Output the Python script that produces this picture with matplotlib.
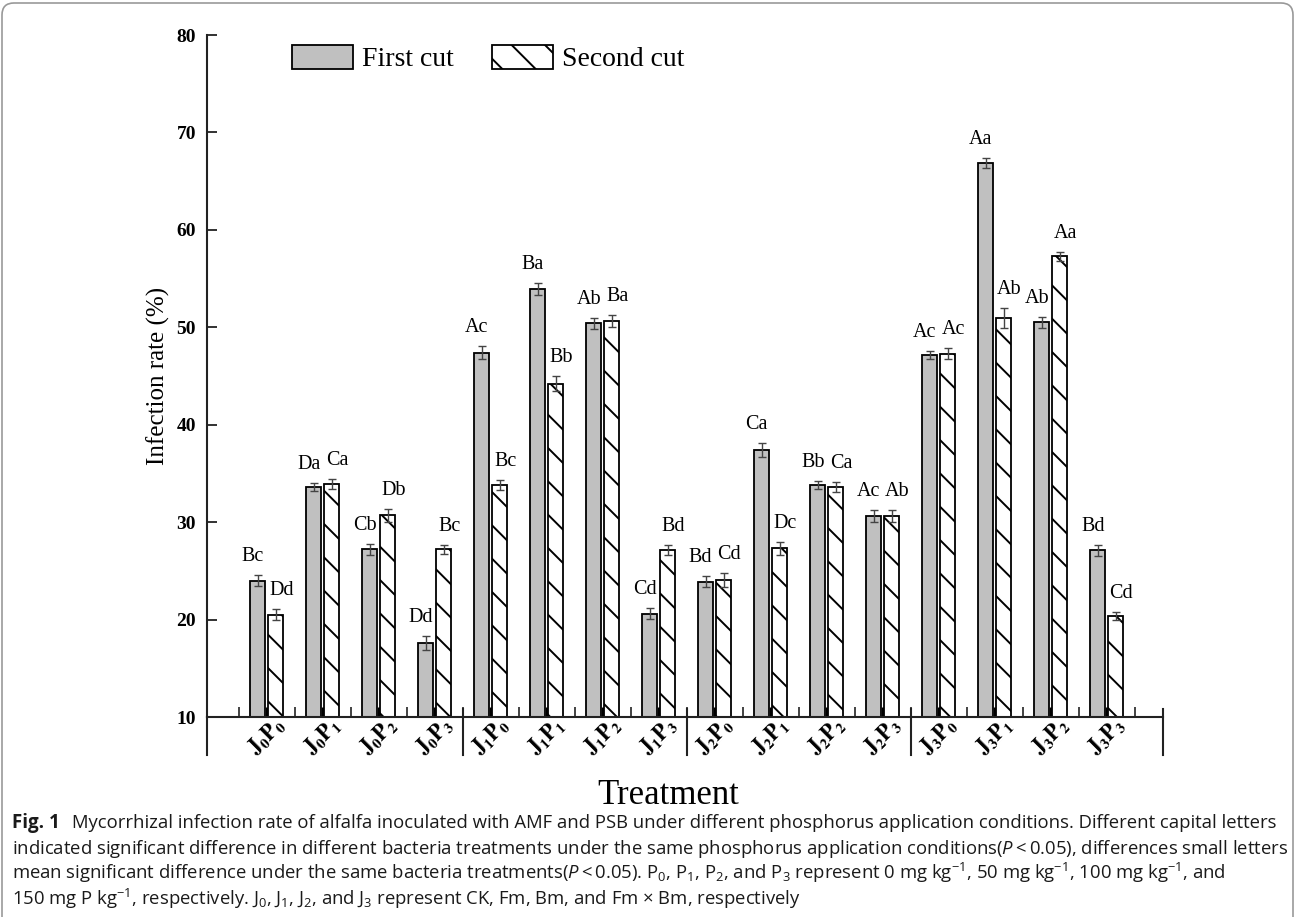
"""
Mycorrhizal infection rate of alfalfa, first and second cut, by treatment.
"""
import numpy as np
import matplotlib.pyplot as plt
import matplotlib.transforms as mtransforms
from matplotlib.patches import Patch, FancyBboxPatch

# treatment codes J(bacteria) x P(phosphorus level)
treatments = ["J0P0", "J0P1", "J0P2", "J0P3",
              "J1P0", "J1P1", "J1P2", "J1P3",
              "J2P0", "J2P1", "J2P2", "J2P3",
              "J3P0", "J3P1", "J3P2", "J3P3"]

first_cut = [24.0, 33.6, 27.2, 17.6, 47.4, 53.9, 50.4, 20.6,
             23.9, 37.4, 33.8, 30.6, 47.15, 66.9, 50.5, 27.1]
first_err = [0.6, 0.45, 0.55, 0.75, 0.65, 0.6, 0.6, 0.55,
             0.55, 0.75, 0.4, 0.6, 0.4, 0.5, 0.6, 0.55]
second_cut = [20.5, 33.9, 30.7, 27.2, 33.8, 44.2, 50.65, 27.15,
              24.05, 27.3, 33.6, 30.6, 47.3, 50.95, 57.3, 20.4]
second_err = [0.55, 0.5, 0.65, 0.45, 0.5, 0.75, 0.6, 0.5,
              0.75, 0.65, 0.5, 0.6, 0.6, 1.0, 0.45, 0.4]

first_sig = ["Bc", "Da", "Cb", "Dd", "Ac", "Ba", "Ab", "Cd",
             "Bd", "Ca", "Bb", "Ac", "Ac", "Aa", "Ab", "Bd"]
second_sig = ["Dd", "Ca", "Db", "Bc", "Bc", "Bb", "Ba", "Bd",
              "Cd", "Dc", "Ca", "Ab", "Ac", "Ab", "Aa", "Cd"]

caption_lines = [
    "Mycorrhizal infection rate of alfalfa inoculated with AMF and PSB under different phosphorus application conditions. Different capital letters",
    "indicated significant difference in different bacteria treatments under the same phosphorus application conditions($P$\u2009<\u20090.05), differences small letters",
    "mean significant difference under the same bacteria treatments($P$\u2009<\u20090.05). P$_0$, P$_1$, P$_2$, and P$_3$ represent 0 mg kg$^{-1}$, 50 mg kg$^{-1}$, 100 mg kg$^{-1}$, and",
    "150 mg P kg$^{-1}$, respectively. J$_0$, J$_1$, J$_2$, and J$_3$ represent CK, Fm, Bm, and Fm \u00d7 Bm, respectively",
]

plt.rcParams["font.family"] = ["Liberation Serif", "DejaVu Serif"]
plt.rcParams["hatch.linewidth"] = 1.4
plt.rcParams["mathtext.fontset"] = "custom"
plt.rcParams["mathtext.rm"] = "Open Sans"
plt.rcParams["mathtext.it"] = "Open Sans:italic"
plt.rcParams["mathtext.bf"] = "Open Sans:bold"

W, H = 1295, 917
fig = plt.figure(figsize=(W / 100, H / 100), dpi=100)
ax = fig.add_axes([207 / W, 1 - 717 / H, (1163 - 207) / W, (717 - 35) / H])

x = np.arange(len(treatments))
bw = 0.27
off1, off2 = -0.165, 0.155

ax.bar(x + off1, first_cut, bw, color="#c0c0c0", edgecolor="black", linewidth=1.3, zorder=2)
ax.bar(x + off2, second_cut, bw, color="white", edgecolor="black", linewidth=1.3,
       hatch="\\", zorder=2)
ax.errorbar(x + off1, first_cut, yerr=first_err, fmt="none", ecolor="#444444",
            elinewidth=1, capsize=3, capthick=1, zorder=3)
ax.errorbar(x + off2, second_cut, yerr=second_err, fmt="none", ecolor="#444444",
            elinewidth=1, capsize=3, capthick=1, zorder=3)

# significance letters above the error bars, nudged outward a little
for i in range(len(treatments)):
    ax.text(x[i] + off1 - 0.09, first_cut[i] + first_err[i] + 1.9, first_sig[i],
            ha="center", va="center", fontsize=14.5)
    ax.text(x[i] + off2 + 0.1, second_cut[i] + second_err[i] + 1.9, second_sig[i],
            ha="center", va="center", fontsize=14.5)

x0, x1 = -1.07, 16.0
ax.set_xlim(x0, x1)
ax.set_ylim(10, 80)
ax.set_yticks(range(10, 81, 10))
ax.set_xticks(x)
ax.set_xticks(np.arange(-0.5, 16, 1.0), minor=True)
ax.tick_params(axis="x", which="major", direction="in", length=7, width=2.5,
               labelbottom=False, color="black")
ax.tick_params(axis="x", which="minor", direction="in", length=7, width=1.2, color="#222222")
ax.tick_params(axis="y", direction="in", length=7, width=1.3, labelsize=14, pad=8,
               color="#222222")
for lbl in ax.get_yticklabels():
    lbl.set_fontweight("bold")

for s in ["top", "right"]:
    ax.spines[s].set_visible(False)
for s in ["left", "bottom"]:
    ax.spines[s].set_linewidth(1.5)
    ax.spines[s].set_color("#222222")

# group dividers under the axis
trans = mtransforms.blended_transform_factory(ax.transData, ax.transAxes)
for xv in [x0, 3.5, 7.5, 11.5, x1]:
    top = 0.0 if xv == x0 else 0.012
    ax.plot([xv, xv], [-0.056, top], transform=trans, color="#222222", lw=1.5,
            clip_on=False, zorder=4)

for i, t in enumerate(treatments):
    ax.text(i, -0.029, rf"$\mathbf{{J_{t[1]}P_{t[3]}}}$", transform=trans,
            rotation=45, ha="center", va="center", fontsize=15.5, math_fontfamily="stix")

ax.set_ylabel("Infection rate (%)", fontsize=18)
ax.yaxis.set_label_coords(-0.039, 0.5)

handles = [
    Patch(facecolor="#c0c0c0", edgecolor="black", linewidth=1.3, label="First cut"),
    Patch(facecolor="white", edgecolor="black", linewidth=1.3, hatch="\\", label="Second cut"),
]
ax.legend(handles=handles, ncol=2, frameon=False, fontsize=20, handlelength=2.2,
          handleheight=1.0, handletextpad=0.3, columnspacing=1.4, borderpad=0,
          borderaxespad=0, loc="upper left", bbox_to_anchor=(0.089, 0.986))

fig.text(668 / W, 1 - 804 / H, "Treatment", fontsize=25, ha="center", va="baseline")

# caption
cap_font = ["Open Sans", "DejaVu Sans"]
fig.text(12 / W, 1 - 828 / H, "Fig. 1", fontsize=13.5, fontweight="bold",
         family=cap_font, va="baseline", color="#1a1a1a")
for k, line in enumerate(caption_lines):
    xs = 72 if k == 0 else 12
    fig.text(xs / W, 1 - (828 + 25.7 * k) / H, line, fontsize=13.3, family=cap_font,
             va="baseline", color="#1a1a1a")

border = FancyBboxPatch((2, -20), W - 4, H + 20 - 3,
                        boxstyle="round,pad=0,rounding_size=12",
                        transform=mtransforms.IdentityTransform(),
                        facecolor="none", edgecolor="#999999", linewidth=1.2)
fig.add_artist(border)

fig.savefig("out.png", dpi=100)
